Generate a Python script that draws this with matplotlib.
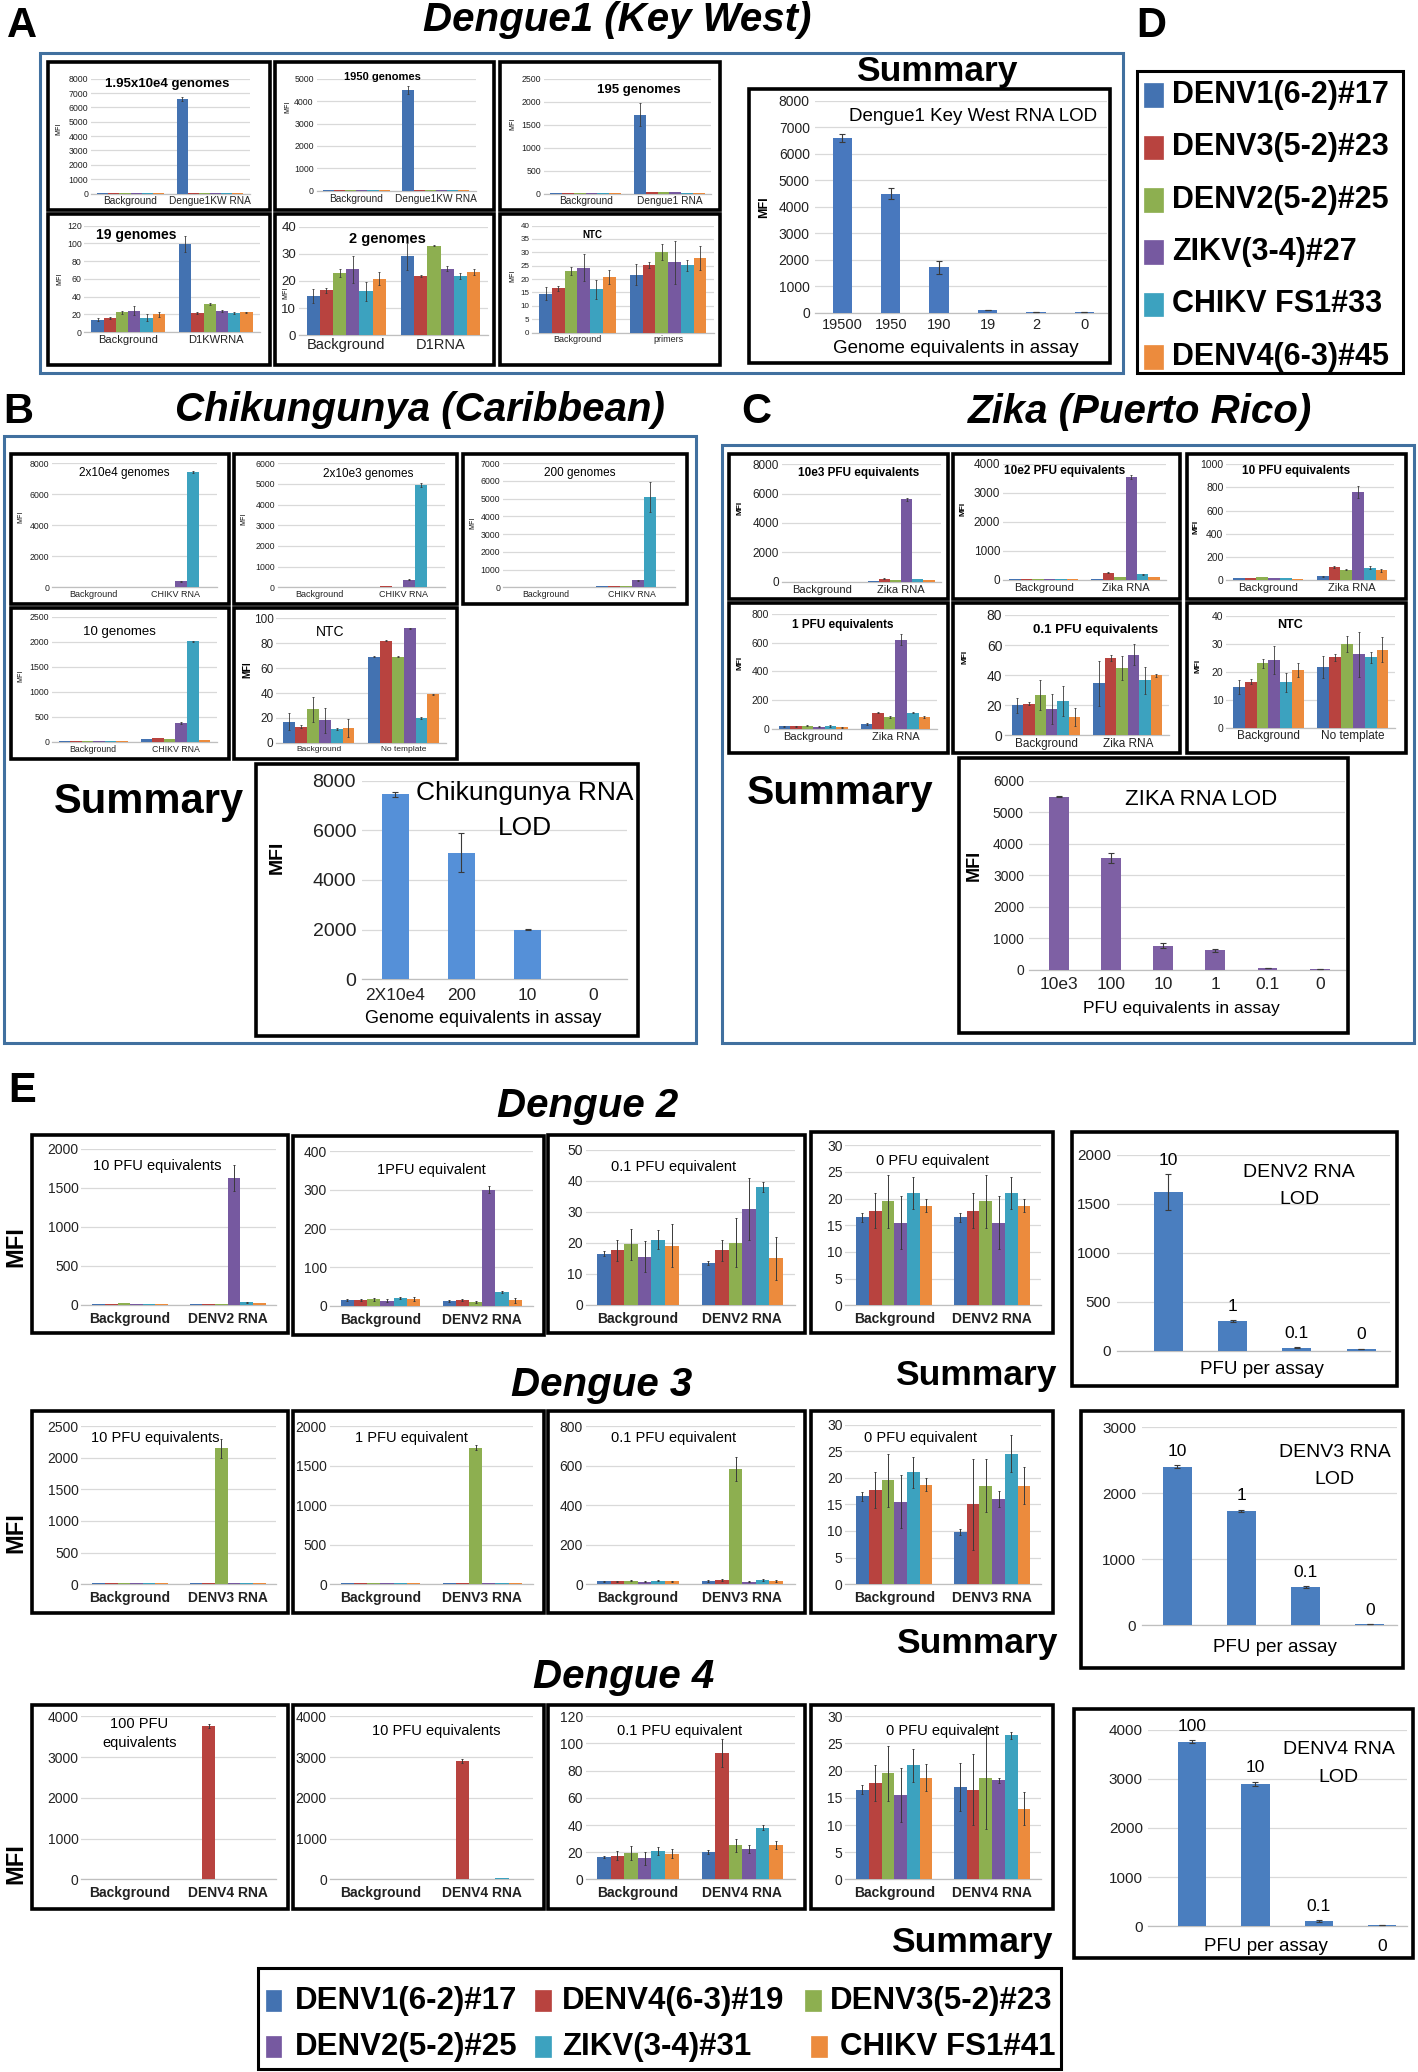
import numpy as np
import matplotlib
matplotlib.use("Agg")
import matplotlib.pyplot as plt
from matplotlib.patches import Rectangle

plt.rcParams['font.family'] = ['Liberation Sans', 'DejaVu Sans']

# ------------------------------------------------------------------ data
SERIES_D = ['DENV1(6-2)#17', 'DENV3(5-2)#23', 'DENV2(5-2)#25',
            'ZIKV(3-4)#27', 'CHIKV FS1#33', 'DENV4(6-3)#45']
SERIES_E = ['DENV1(6-2)#17', 'DENV4(6-3)#19', 'DENV3(5-2)#23',
            'DENV2(5-2)#25', 'ZIKV(3-4)#31', 'CHIKV FS1#41']
COLORS = ['#4372B1', '#B8433F', '#8DAF50', '#7659A0', '#3CA2BF', '#EC8B3D']

# Panel A  Dengue1 (Key West)
a1_cats = ['Background', 'Dengue1KW RNA']
a1_vals = [[10, 10, 10, 10, 10, 10], [6600, 20, 20, 15, 15, 15]]
a1_errs = [[0, 0, 0, 0, 0, 0], [120, 0, 0, 0, 0, 0]]
a2_cats = ['Background', 'Dengue1KW RNA']
a2_vals = [[25, 25, 25, 25, 25, 25], [4500, 40, 40, 50, 30, 30]]
a2_errs = [[0, 0, 0, 0, 0, 0], [180, 0, 0, 0, 0, 0]]
a3_cats = ['Background', 'Dengue1 RNA']
a3_vals = [[20, 20, 20, 20, 20, 20], [1720, 25, 30, 25, 20, 20]]
a3_errs = [[0, 0, 0, 0, 0, 0], [240, 0, 0, 0, 0, 0]]
a4_cats = ['Background', 'D1KWRNA']
a4_vals = [[14, 16, 22, 24, 16, 20], [99, 21, 32, 24, 21, 22]]
a4_errs = [[2, 1, 2, 5, 4, 3], [9, 1, 1, 1, 1, 1]]
a5_cats = ['Background', 'D1RNA']
a5_vals = [[14.5, 16.5, 23, 24.2, 16.2, 20.8], [29, 21.8, 33, 24.5, 21.8, 23.3]]
a5_errs = [[2.5, 1, 1.5, 5, 3.5, 2.5], [5, 0.5, 0.3, 1, 1.2, 1.2]]
a6_cats = ['Background', 'primers']
a6_vals = [[14.5, 16.5, 23, 24.2, 16.2, 20.8], [21.7, 25.2, 30, 26.3, 25.2, 28]]
a6_errs = [[2.5, 1, 1.5, 5, 3.5, 2.5], [4, 1.2, 3, 8, 2, 4.5]]
aS_cats = ['19500', '1950', '190', '19', '2', '0']
aS_vals = [6600, 4500, 1720, 99, 29, 22]
aS_errs = [150, 200, 250, 15, 5, 3]

# Panel B  Chikungunya (Caribbean)
b1_cats = ['Background', 'CHIKV RNA']
b1_vals = [[10, 10, 15, 10, 10, 10], [20, 30, 30, 380, 7450, 20]]
b1_errs = [[0, 0, 0, 0, 0, 0], [0, 0, 0, 30, 80, 0]]
b2_cats = ['Background', 'CHIKV RNA']
b2_vals = [[10, 10, 15, 10, 10, 10], [20, 50, 40, 370, 4930, 20]]
b2_errs = [[0, 0, 0, 0, 0, 0], [0, 0, 0, 20, 100, 0]]
b3_cats = ['Background', 'CHIKV RNA']
b3_vals = [[10, 10, 15, 10, 10, 10], [60, 90, 60, 400, 5100, 30]]
b3_errs = [[0, 0, 0, 0, 0, 0], [0, 0, 0, 30, 850, 0]]
b4_cats = ['Background', 'CHIKV RNA']
b4_vals = [[15, 10, 25, 15, 10, 10], [60, 70, 60, 370, 2010, 40]]
b4_errs = [[0, 0, 0, 0, 0, 0], [0, 0, 0, 20, 15, 0]]
b5_cats = ['Background', 'No template']
b5_vals = [[17, 13, 27, 18, 11, 12], [69, 82, 69, 92, 20, 39]]
b5_errs = [[7, 1, 10, 10, 1, 7], [0.5, 0.5, 0.5, 0.5, 1, 0.5]]
bS_cats = ['2X10e4', '200', '10', '0']
bS_vals = [7450, 5100, 2000, 20]
bS_errs = [100, 800, 20, 0]

# Panel C  Zika (Puerto Rico)
c1_cats = ['Background', 'Zika RNA']
c1_vals = [[10, 10, 10, 10, 10, 10], [50, 200, 150, 5600, 180, 130]]
c1_errs = [[0, 0, 0, 0, 0, 0], [0, 30, 0, 100, 0, 0]]
c2_cats = ['Background', 'Zika RNA']
c2_vals = [[20, 20, 20, 20, 20, 20], [40, 250, 100, 3550, 200, 110]]
c2_errs = [[0, 0, 0, 0, 0, 0], [0, 20, 0, 80, 20, 0]]
c3_cats = ['Background', 'Zika RNA']
c3_vals = [[20, 20, 25, 20, 22, 15], [35, 115, 90, 760, 110, 85]]
c3_errs = [[0, 0, 0, 0, 0, 0], [5, 5, 5, 50, 10, 10]]
c4_cats = ['Background', 'Zika RNA']
c4_vals = [[20, 20, 25, 18, 22, 12], [35, 115, 85, 620, 115, 85]]
c4_errs = [[3, 3, 5, 3, 5, 3], [5, 5, 5, 40, 5, 10]]
c5_cats = ['Background', 'Zika RNA']
c5_vals = [[20, 21, 27, 17.5, 23, 12], [34.5, 51.5, 44.5, 53.5, 36.5, 40]]
c5_errs = [[5, 1, 10, 10, 10, 6], [15, 2, 8, 7, 9, 1]]
c6_cats = ['Background', 'No template']
c6_vals = [[14.5, 16.5, 23, 24.2, 16.2, 20.8], [21.7, 25.2, 30, 26.3, 25.2, 28]]
c6_errs = [[2.5, 1, 1.5, 5, 3.5, 2.5], [4, 1.2, 3, 8, 2, 4.5]]
cS_cats = ['10e3', '100', '10', '1', '0.1', '0']
cS_vals = [5500, 3550, 770, 620, 60, 30]
cS_errs = [10, 150, 80, 60, 10, 10]

# Panel E  Dengue 2
e1_cats = ['Background', 'DENV2 RNA']
e1_vals = [[10, 12, 15, 10, 12, 10], [10, 10, 10, 1630, 30, 15]]
e1_errs = [[0, 0, 0, 0, 0, 0], [0, 0, 0, 170, 5, 0]]
e2_cats = ['Background', 'DENV2 RNA']
e2_vals = [[15, 15, 17, 13, 20, 17], [12, 15, 10, 301, 36, 14]]
e2_errs = [[2, 3, 4, 4, 3, 5], [2, 3, 2, 10, 2, 6]]
e3_cats = ['Background', 'DENV2 RNA']
e3_vals = [[16.5, 17.5, 19.5, 15.5, 21, 19], [13.5, 17.5, 20, 31, 38, 15]]
e3_errs = [[0.8, 3.5, 5, 5, 3, 7], [0.7, 3.5, 8, 10, 1.5, 7]]
e4_cats = ['Background', 'DENV2 RNA']
e4_vals = [[16.5, 17.7, 19.5, 15.5, 21, 18.7], [16.5, 17.7, 19.5, 15.5, 21, 18.7]]
e4_errs = [[0.8, 3.3, 5, 5, 3, 1.2], [0.8, 3.3, 5, 5, 3, 1.2]]
eS2_labels = ['10', '1', '0.1', '0']
eS2_vals = [1620, 300, 30, 15]
eS2_errs = [180, 10, 5, 2]
# Dengue 3
e5_cats = ['Background', 'DENV3 RNA']
e5_vals = [[15, 15, 15, 12, 15, 15], [15, 20, 2150, 15, 25, 15]]
e5_errs = [[0, 0, 0, 0, 0, 0], [0, 0, 150, 0, 0, 0]]
e6_cats = ['Background', 'DENV3 RNA']
e6_vals = [[15, 15, 15, 12, 15, 15], [15, 15, 1730, 15, 15, 15]]
e6_errs = [[0, 0, 0, 0, 0, 0], [0, 0, 30, 0, 0, 0]]
e7_cats = ['Background', 'DENV3 RNA']
e7_vals = [[15, 15, 18, 12, 18, 15], [18, 22, 585, 12, 22, 18]]
e7_errs = [[3, 3, 3, 3, 3, 3], [5, 5, 60, 3, 5, 5]]
e8_cats = ['Background', 'DENV3 RNA']
e8_vals = [[16.5, 17.7, 19.5, 15.5, 21, 18.7], [9.8, 15, 18.5, 16, 24.5, 18.5]]
e8_errs = [[0.8, 3.3, 5, 5, 3, 1.2], [0.5, 8.5, 5, 1.5, 3.5, 3.5]]
eS3_labels = ['10', '1', '0.1', '0']
eS3_vals = [2400, 1730, 580, 20]
eS3_errs = [20, 20, 10, 2]
# Dengue 4
e9_cats = ['Background', 'DENV4 RNA']
e9_vals = [[15, 15, 15, 15, 15, 15], [15, 3760, 15, 15, 20, 15]]
e9_errs = [[0, 0, 0, 0, 0, 0], [0, 40, 0, 0, 0, 0]]
e10_cats = ['Background', 'DENV4 RNA']
e10_vals = [[15, 15, 15, 15, 15, 15], [15, 2900, 20, 20, 30, 20]]
e10_errs = [[0, 0, 0, 0, 0, 0], [0, 50, 0, 0, 0, 0]]
e11_cats = ['Background', 'DENV4 RNA']
e11_vals = [[16.5, 17.5, 19.5, 15.5, 21, 19], [20, 93, 25, 22.5, 38, 25]]
e11_errs = [[0.8, 3.5, 5, 5, 3, 3], [1.5, 10, 5, 3, 2, 3]]
e12_cats = ['Background', 'DENV4 RNA']
e12_vals = [[16.5, 17.7, 19.5, 15.5, 21, 18.7], [17, 16.5, 18.7, 18.2, 26.5, 13]]
e12_errs = [[0.8, 3.3, 5, 5, 3, 2.5], [4.5, 6.5, 9.5, 0.5, 0.7, 3]]
eS4_labels = ['100', '10', '0.1', '0']
eS4_vals = [3760, 2900, 100, 15]
eS4_errs = [30, 40, 20, 2]

# ------------------------------------------------------------------ helpers
W, H = 1073.0, 1568.0          # layout units (proportional to the figure)
fig = plt.figure(figsize=(14.18, 20.72), dpi=100)
fig.patch.set_facecolor('white')
BLUE_FRAME = '#41709F'


def rect(x0, y0, x1, y1, color='black', lw=2.6, fill=None):
    fig.add_artist(Rectangle((x0 / W, 1 - y1 / H), (x1 - x0) / W, (y1 - y0) / H,
                             transform=fig.transFigure, fill=fill is not None,
                             facecolor=fill if fill else 'none',
                             edgecolor=color, linewidth=lw, zorder=10))


def text(x, y, s, **kw):
    kw.setdefault('ha', 'center')
    kw.setdefault('va', 'center')
    fig.text(x / W, 1 - y / H, s, **kw)


def new_ax(x0, y0, x1, y1):
    ax = fig.add_axes([x0 / W, 1 - y1 / H, (x1 - x0) / W, (y1 - y0) / H])
    ax.patch.set_alpha(0)
    return ax


def style(ax, ymax, step, tick_fs, cat_fs, cat_w='normal', cat_pad=2, tick_pad=2):
    ax.set_ylim(0, ymax)
    ticks = np.arange(0, ymax + step * 0.5, step)
    ax.set_yticks(ticks)
    ax.set_yticklabels([f'{int(t)}' for t in ticks])
    ax.grid(axis='y', color='#D9D9D9', linewidth=0.9)
    ax.set_axisbelow(True)
    for s in ('top', 'right', 'left'):
        ax.spines[s].set_visible(False)
    ax.spines['bottom'].set_color('#BFBFBF')
    ax.spines['bottom'].set_linewidth(0.9)
    ax.tick_params(axis='both', length=0)
    ax.tick_params(axis='y', labelsize=tick_fs, pad=tick_pad, labelcolor='#222222')
    ax.tick_params(axis='x', labelsize=cat_fs, pad=cat_pad, labelcolor='#222222')
    for lab in ax.get_xticklabels():
        lab.set_fontweight(cat_w)


def bars_err(ax, x, v, e, bw, color, elw=0.6, cap=1.0):
    x = np.asarray(x, float); v = np.asarray(v, float); e = np.asarray(e, float)
    ax.bar(x, v, bw, color=color, linewidth=0, zorder=3)
    m = e > 0
    if m.any():
        ax.errorbar(x[m], v[m], yerr=e[m], fmt='none', ecolor='#3A3A3A',
                    elinewidth=elw, capsize=cap, capthick=elw, zorder=4)


def small(box, geo, cats, vals, errs, ymax, step, title, tpos, tfs, tw='bold',
          tick_fs=7, cat_fs=7, cat_w='normal', cat_pad=2, mfi=None, bw=0.14,
          elw=0.6):
    x0, y0, x1, y1 = box
    w, h = x1 - x0, y1 - y0
    l, r, t, b = geo
    rect(x0, y0, x1, y1)
    ax = new_ax(x0 + l * w, y0 + t * h, x0 + r * w, y0 + b * h)
    v = np.asarray(vals, float); e = np.asarray(errs, float)
    ng, ns = v.shape
    xc = np.arange(ng)
    for s in range(ns):
        bars_err(ax, xc + (s - (ns - 1) / 2) * bw, v[:, s], e[:, s], bw, COLORS[s], elw=elw)
    ax.set_xlim(-0.5, ng - 0.5)
    ax.set_xticks(xc)
    ax.set_xticklabels(cats)
    style(ax, ymax, step, tick_fs, cat_fs, cat_w, cat_pad)
    text(x0 + tpos[0] * w, y0 + tpos[1] * h, title, fontsize=tfs, fontweight=tw,
         linespacing=1.5)
    if mfi:
        text(x0 + mfi[0] * w, y0 + mfi[1] * h, 'MFI', rotation=90,
             fontsize=mfi[2], fontweight=mfi[3])
    return ax


def summary(axb, xlim, cats, vals, errs, ymax, step, color, tick_fs, cat_fs,
            cat_pad=4, bw=0.4, cat_w='normal', tick_w='normal'):
    ax = new_ax(*axb)
    x = np.arange(len(vals))
    bars_err(ax, x, vals, errs, bw, color, elw=0.8, cap=2)
    ax.set_xlim(*xlim)
    if cats is None:
        ax.set_xticks([])
    else:
        ax.set_xticks(x)
        ax.set_xticklabels(cats)
    style(ax, ymax, step, tick_fs, cat_fs, cat_w, cat_pad, tick_pad=4)
    for lab in ax.get_yticklabels():
        lab.set_fontweight(tick_w)
    return ax


# ------------------------------------------------------------------ panel A
rect(30, 40, 850, 282, color=BLUE_FRAME, lw=2.2)
text(17, 20, 'A', fontsize=30, fontweight='bold')
text(467, 15, 'Dengue1 (Key West)', fontsize=29, fontweight='bold', style='italic')

small((36, 47, 204, 159), (0.195, 0.91, 0.112, 0.888), a1_cats, a1_vals, a1_errs,
      8000, 1000, '1.95x10e4 genomes', (0.54, 0.15), 9.5, tick_fs=6.3, cat_fs=7.3,
      mfi=(0.05, 0.45, 5, 'normal'))
small((208, 47, 374, 159), (0.19, 0.915, 0.112, 0.87), a2_cats, a2_vals, a2_errs,
      5000, 1000, '1950 genomes', (0.49, 0.10), 8, tick_fs=6.3, cat_fs=7.3,
      mfi=(0.06, 0.3, 5, 'normal'))
small((378, 47, 545, 159), (0.2, 0.96, 0.112, 0.888), a3_cats, a3_vals, a3_errs,
      2500, 500, '195 genomes', (0.63, 0.19), 9.5, tick_fs=6.3, cat_fs=7.3,
      mfi=(0.06, 0.42, 5, 'normal'))
small((36, 162, 204, 276), (0.166, 0.955, 0.076, 0.783), a4_cats, a4_vals, a4_errs,
      120, 20, '19 genomes', (0.40, 0.14), 10, tick_fs=6.3, cat_fs=8,
      mfi=(0.055, 0.43, 5, 'normal'))
small((208, 162, 374, 276), (0.11, 0.97, 0.083, 0.804), a5_cats, a5_vals, a5_errs,
      40, 10, '2 genomes', (0.515, 0.163), 10.5, tick_fs=9.5, cat_fs=10.5,
      mfi=(0.05, 0.52, 5, 'normal'))
small((378, 162, 545, 276), (0.147, 0.97, 0.076, 0.787), a6_cats, a6_vals, a6_errs,
      40, 5, 'NTC', (0.42, 0.14), 7, tick_fs=5.8, cat_fs=6.5,
      mfi=(0.06, 0.41, 5, 'normal'))

# A summary
rect(567, 67, 840, 275)
text(709, 54, 'Summary', fontsize=25.5, fontweight='bold')
summary((617, 76.4, 838, 236.6), (-0.56, 5.48), aS_cats, aS_vals, aS_errs, 8000, 1000,
        '#4878BE', 10, 10.5, cat_pad=4)
text(736, 88, 'Dengue1 Key West RNA LOD', fontsize=13.5)
text(723, 263.5, 'Genome equivalents in assay', fontsize=13.5)
text(578, 156.5, 'MFI', rotation=90, fontsize=9, fontweight='bold')

# ------------------------------------------------------------------ panel D legend
text(871, 20, 'D', fontsize=30, fontweight='bold')
rect(860, 54, 1062, 282, lw=2.2)
for i, lab in enumerate(SERIES_D):
    yy = 72 + i * 39.6
    rect(866, yy - 9, 880, yy + 9, color=COLORS[i], lw=0.5, fill=COLORS[i])
    text(887, yy, lab, ha='left', fontsize=22, fontweight='bold')

# ------------------------------------------------------------------ panel B
rect(3, 330, 527, 789, color=BLUE_FRAME, lw=2.2)
text(14, 312, 'B', fontsize=30, fontweight='bold')
text(318, 310, 'Chikungunya (Caribbean)', fontsize=29, fontweight='bold', style='italic')

small((8, 343.5, 173, 457), (0.19, 0.945, 0.062, 0.89), b1_cats, b1_vals, b1_errs,
      8000, 2000, '2x10e4 genomes', (0.52, 0.13), 8.5, tw='normal', tick_fs=6.3,
      cat_fs=6.5, mfi=(0.045, 0.42, 5, 'normal'))
small((177, 343.5, 346, 457), (0.196, 0.946, 0.062, 0.89), b2_cats, b2_vals, b2_errs,
      6000, 1000, '2x10e3 genomes', (0.6, 0.136), 8.5, tw='normal', tick_fs=6.3,
      cat_fs=6.5, mfi=(0.045, 0.43, 5, 'normal'))
small((350, 343.5, 520, 457), (0.18, 0.945, 0.062, 0.89), b3_cats, b3_vals, b3_errs,
      7000, 1000, '200 genomes', (0.52, 0.13), 8.5, tw='normal', tick_fs=6.3,
      cat_fs=6.3, mfi=(0.045, 0.46, 5, 'normal'))
small((8, 460, 173, 574), (0.19, 0.945, 0.06, 0.89), b4_cats, b4_vals, b4_errs,
      2500, 500, '10 genomes', (0.5, 0.16), 9.5, tw='normal', tick_fs=6.3,
      cat_fs=6.3, mfi=(0.045, 0.45, 5, 'normal'))
small((177, 460, 346, 574), (0.19, 0.95, 0.069, 0.896), b5_cats, b5_vals, b5_errs,
      100, 20, 'NTC', (0.43, 0.16), 10, tw='normal', tick_fs=8.5, cat_fs=6,
      mfi=(0.06, 0.41, 7, 'bold'))

rect(194, 578, 483, 784)
text(113, 607, 'Summary', fontsize=30, fontweight='bold')
summary((273.6, 590.7, 474.7, 741), (-0.51, 3.51), bS_cats, bS_vals, bS_errs, 8000, 2000,
        '#5590D8', 14, 12.5, cat_pad=6, tick_w='normal')
text(397, 600, 'Chikungunya RNA', fontsize=19)
text(397, 626.7, 'LOD', fontsize=19)
text(366, 771, 'Genome equivalents in assay', fontsize=13)
text(209.5, 648.5, 'MFI', rotation=90, fontsize=14, fontweight='bold')

# ------------------------------------------------------------------ panel C
rect(546, 337, 1070, 789, color=BLUE_FRAME, lw=2.2)
text(572, 312, 'C', fontsize=30, fontweight='bold')
text(863, 312, 'Zika (Puerto Rico)', fontsize=29, fontweight='bold', style='italic')

small((552, 343.5, 717, 453.5), (0.24, 0.97, 0.07, 0.88), c1_cats, c1_vals, c1_errs,
      8000, 2000, '10e3 PFU equivalents', (0.59, 0.13), 8.5, tick_fs=8.5, cat_fs=8,
      mfi=(0.047, 0.37, 6, 'bold'))
small((721, 343.5, 893, 453.5), (0.22, 0.94, 0.069, 0.867), c2_cats, c2_vals, c2_errs,
      4000, 1000, '10e2 PFU equivalents', (0.49, 0.12), 8.5, tick_fs=8.5, cat_fs=8,
      mfi=(0.043, 0.38, 6, 'bold'))
small((898, 343.5, 1064, 453.5), (0.18, 0.945, 0.07, 0.87), c3_cats, c3_vals, c3_errs,
      1000, 200, '10 PFU equivalents', (0.5, 0.12), 8.5, tick_fs=7.5, cat_fs=8,
      mfi=(0.04, 0.5, 6, 'bold'))
small((552, 456.5, 717, 570), (0.195, 0.95, 0.07, 0.84), c4_cats, c4_vals, c4_errs,
      800, 200, '1 PFU equivalents', (0.52, 0.145), 8.5, tick_fs=7.5, cat_fs=8,
      mfi=(0.047, 0.4, 6, 'bold'))
small((721, 456.5, 893, 570), (0.23, 0.95, 0.078, 0.88), c5_cats, c5_vals, c5_errs,
      80, 20, '0.1 PFU equivalents', (0.63, 0.18), 9.5, tick_fs=10, cat_fs=8.5,
      mfi=(0.055, 0.36, 6, 'bold'))
small((898, 456.5, 1064, 570), (0.18, 0.95, 0.085, 0.83), c6_cats, c6_vals, c6_errs,
      40, 10, 'NTC', (0.47, 0.145), 9, tick_fs=7.5, cat_fs=8.5,
      mfi=(0.05, 0.42, 6, 'bold'))

rect(726, 574, 1020, 781.5)
text(636, 600, 'Summary', fontsize=29.5, fontweight='bold')
summary((779, 591, 1018, 734), (-0.56, 5.49), cS_cats, cS_vals, cS_errs, 6000, 1000,
        '#7E60A4', 10, 12.5, cat_pad=5, bw=0.38)
text(909, 605, 'ZIKA RNA LOD', fontsize=16)
text(894, 763, 'PFU equivalents in assay', fontsize=12.5)
text(737, 654.6, 'MFI', rotation=90, fontsize=13, fontweight='bold')

# ------------------------------------------------------------------ panel E
text(17, 826, 'E', fontsize=30, fontweight='bold')
text(445, 837, 'Dengue 2', fontsize=29, fontweight='bold', style='italic')
text(455, 1048, 'Dengue 3', fontsize=29, fontweight='bold', style='italic')
text(472, 1269, 'Dengue 4', fontsize=29, fontweight='bold', style='italic')
for yy in (943, 1160, 1410):
    text(12, yy, 'MFI', rotation=90, fontsize=17, fontweight='bold')

ekw = dict(tw='normal', tick_fs=10, cat_fs=10, cat_w='bold', cat_pad=5, bw=0.13, elw=0.7)
# Dengue 2
small((24, 859, 218, 1009), (0.194, 0.954, 0.07, 0.855), e1_cats, e1_vals, e1_errs,
      2000, 500, '10 PFU equivalents', (0.49, 0.156), 10.5, **ekw)
small((222, 860, 412, 1010), (0.144, 0.955, 0.075, 0.855), e2_cats, e2_vals, e2_errs,
      400, 100, '1PFU equivalent', (0.55, 0.17), 10.5, **ekw)
small((415, 859, 609, 1009), (0.145, 0.96, 0.075, 0.855), e3_cats, e3_vals, e3_errs,
      50, 10, '0.1 PFU equivalent', (0.49, 0.16), 10.5, **ekw)
small((614, 857, 797, 1009), (0.14, 0.95, 0.064, 0.86), e4_cats, e4_vals, e4_errs,
      30, 5, '0 PFU equivalent', (0.5, 0.14), 10.5, **ekw)
# Dengue 3
small((24, 1068, 218, 1221), (0.194, 0.954, 0.074, 0.855), e5_cats, e5_vals, e5_errs,
      2500, 500, '10 PFU equivalents', (0.48, 0.13), 10.5, **ekw)
small((222, 1068, 412, 1221), (0.144, 0.955, 0.074, 0.855), e6_cats, e6_vals, e6_errs,
      2000, 500, '1 PFU equivalent', (0.47, 0.13), 10.5, **ekw)
small((415, 1068, 609, 1221), (0.145, 0.96, 0.074, 0.855), e7_cats, e7_vals, e7_errs,
      800, 200, '0.1 PFU equivalent', (0.49, 0.13), 10.5, **ekw)
small((614, 1068, 797, 1221), (0.14, 0.95, 0.066, 0.855), e8_cats, e8_vals, e8_errs,
      30, 5, '0 PFU equivalent', (0.45, 0.13), 10.5, **ekw)
# Dengue 4
small((24, 1290, 218, 1445), (0.194, 0.954, 0.057, 0.853), e9_cats, e9_vals, e9_errs,
      4000, 1000, '100 PFU\nequivalents', (0.42, 0.14), 10.5, **ekw)
small((222, 1290, 412, 1445), (0.144, 0.955, 0.057, 0.853), e10_cats, e10_vals, e10_errs,
      4000, 1000, '10 PFU equivalents', (0.57, 0.13), 10.5, **ekw)
small((415, 1290, 609, 1445), (0.145, 0.96, 0.057, 0.853), e11_cats, e11_vals, e11_errs,
      120, 20, '0.1 PFU equivalent', (0.51, 0.13), 10.5, **ekw)
small((614, 1290, 797, 1445), (0.14, 0.95, 0.057, 0.853), e12_cats, e12_vals, e12_errs,
      30, 5, '0 PFU equivalent', (0.54, 0.13), 10.5, **ekw)

SUM_E = '#4A7EBF'


def e_summary(box, axb, xlim, labels, vals, errs, ymax, step, t1, t2, txy, xlxy, dys):
    rect(*box)
    ax = summary(axb, xlim, None, vals, errs, ymax, step, SUM_E, 11, 10, bw=0.45)
    for xi, v, e, lab, dy in zip(range(len(vals)), vals, errs, labels, dys):
        base = v + e if dy > 0 else 0
        ax.annotate(lab, (xi, base), xytext=(0, dy), textcoords='offset points',
                    ha='center', va='center', fontsize=12.5, annotation_clip=False)
    text(txy[0], txy[1], t1, fontsize=14)
    text(txy[0], txy[1] + 21, t2, fontsize=14)
    text(xlxy[0], xlxy[1], 'PFU per assay', fontsize=13.5)


e_summary((811, 857, 1057, 1049), (845, 874, 1052, 1022), (-0.8, 3.45), eS2_labels,
          eS2_vals, eS2_errs, 2000, 500, 'DENV2 RNA', 'LOD', (983, 887), (955, 1036),
          [10, 10, 10, 10])
e_summary((818, 1068, 1062, 1262), (864, 1080, 1057, 1230), (-0.55, 3.42), eS3_labels,
          eS3_vals, eS3_errs, 3000, 1000, 'DENV3 RNA', 'LOD', (1010, 1099), (965, 1247),
          [10, 10, 10, 10])
e_summary((813, 1293, 1069, 1482), (869, 1309, 1065, 1457.6), (-0.69, 3.4), eS4_labels,
          eS4_vals, eS4_errs, 4000, 1000, 'DENV4 RNA', 'LOD', (1013, 1324), (958, 1473),
          [10, 10, 10, -15])

text(738, 1041, 'Summary', fontsize=25.5, fontweight='bold')
text(739, 1244, 'Summary', fontsize=25.5, fontweight='bold')
text(735, 1470, 'Summary', fontsize=25.5, fontweight='bold')

# ------------------------------------------------------------------ legend E
rect(195, 1489, 803, 1566, lw=2.2)
e_cols = [(201, 223), (405, 425), (609, 628)]
e_cols2 = [(201, 223), (405, 425), (614, 636)]
for i, lab in enumerate(SERIES_E):
    row, col = divmod(i, 3)
    mx, tx = (e_cols if row == 0 else e_cols2)[col]
    yy = 1514 if row == 0 else 1549
    rect(mx, yy - 8, mx + 12, yy + 8, color=COLORS[i], lw=0.5, fill=COLORS[i])
    text(tx, yy, lab, ha='left', fontsize=22.5, fontweight='bold')

fig.savefig('out.png', dpi=100, facecolor='white')
